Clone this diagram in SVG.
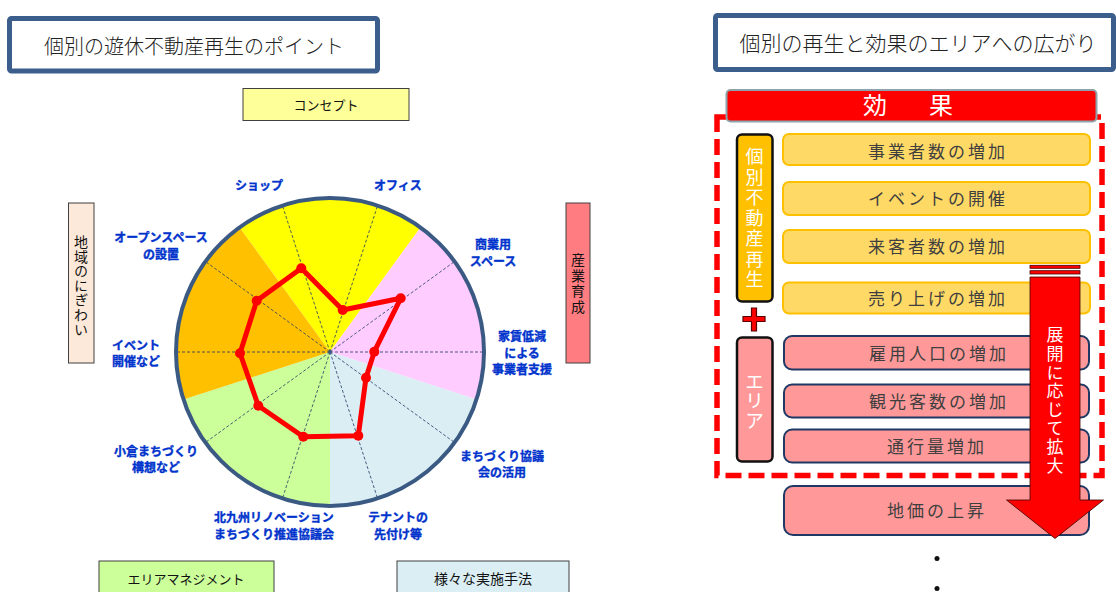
<svg xmlns="http://www.w3.org/2000/svg" width="1116" height="592" viewBox="0 0 1116 592">
<style>
text{font-family:"Noto Sans CJK JP","Noto Sans",sans-serif}
.title{font-size:20px;fill:#222;font-weight:300}
.lbl{font-size:12px;font-weight:bold;fill:#0033CC;stroke:#0033CC;stroke-width:0.35;text-anchor:middle}
.box{stroke:#404040;stroke-width:1}
.bt{font-size:13px;fill:#111;text-anchor:middle}
.vbt{fill:#111;writing-mode:vertical-rl}
.spoke{stroke:#1F3864;stroke-width:0.8;stroke-dasharray:3 2;fill:none}
.eff{fill:#FFD966;stroke:#FFC000;stroke-width:2}
.pk{fill:#FF9999;stroke:#1F3864;stroke-width:2}
.et{font-size:17px;fill:#3F3F3F;text-anchor:middle;letter-spacing:3px}
.vt{fill:#fff;writing-mode:vertical-rl}
</style>
<rect width="1116" height="592" fill="#fff"/>

<g id="title-left">
<rect x="9.5" y="18.5" width="368" height="52.5" fill="#fff" stroke="#3B5E8C" stroke-width="5" rx="2"/>
<text class="title" x="194" y="54" text-anchor="middle">個別の遊休不動産再生のポイント</text>
</g>

<g id="radar">
<path d="M330,352 L420.5,227.4 A154,154 0 0,0 239.5,227.4 Z" fill="#FFFF00"/>
<path d="M330,352 L476.5,399.6 A154,154 0 0,0 420.5,227.4 Z" fill="#FFCCFF"/>
<path d="M330,352 L330,506 A154,154 0 0,0 476.5,399.6 Z" fill="#DAEEF3"/>
<path d="M330,352 L183.5,399.6 A154,154 0 0,0 330,506 Z" fill="#CCFF99"/>
<path d="M330,352 L239.5,227.4 A154,154 0 0,0 183.5,399.6 Z" fill="#FFC000"/>
<g class="spoke">
<line x1="330" y1="352" x2="282.4" y2="205.5"/>
<line x1="330" y1="352" x2="377.6" y2="205.5"/>
<line x1="330" y1="352" x2="454.6" y2="261.5"/>
<line x1="330" y1="352" x2="484" y2="352"/>
<line x1="330" y1="352" x2="454.6" y2="442.5"/>
<line x1="330" y1="352" x2="377.6" y2="498.5"/>
<line x1="330" y1="352" x2="282.4" y2="498.5"/>
<line x1="330" y1="352" x2="205.4" y2="442.5"/>
<line x1="330" y1="352" x2="176" y2="352"/>
<line x1="330" y1="352" x2="205.4" y2="261.5"/>
</g>
<circle cx="330" cy="352" r="154" fill="none" stroke="#3B5A83" stroke-width="4"/>
<circle cx="330" cy="352" r="1.8" fill="#3B5A83"/>
<polygon points="301.3,268.3 342.7,310 400.7,298.3 374.3,351.7 366,377.7 358.3,435.7 303.3,436.7 258.3,405.7 240,353.3 256.7,300.7" fill="none" stroke="#FF0000" stroke-width="5" stroke-linejoin="round"/>
<g fill="#FF0000">
<circle cx="301.3" cy="268.3" r="5"/>
<circle cx="342.7" cy="310" r="5"/>
<circle cx="400.7" cy="298.3" r="5"/>
<circle cx="374.3" cy="351.7" r="5"/>
<circle cx="366" cy="377.7" r="5"/>
<circle cx="358.3" cy="435.7" r="5"/>
<circle cx="303.3" cy="436.7" r="5"/>
<circle cx="258.3" cy="405.7" r="5"/>
<circle cx="240" cy="353.3" r="5"/>
<circle cx="256.7" cy="300.7" r="5"/>
</g>
</g>

<g id="radar-labels">
<text class="lbl" x="259" y="190">ショップ</text>
<text class="lbl" x="398" y="190">オフィス</text>
<text class="lbl" x="493" y="249">商業用</text>
<text class="lbl" x="493" y="266">スペース</text>
<text class="lbl" x="522" y="341">家賃低減</text>
<text class="lbl" x="522" y="358">による</text>
<text class="lbl" x="522" y="374">事業者支援</text>
<text class="lbl" x="502" y="461">まちづくり協議</text>
<text class="lbl" x="502" y="477">会の活用</text>
<text class="lbl" x="398" y="522">テナントの</text>
<text class="lbl" x="398" y="539">先付け等</text>
<text class="lbl" x="274" y="522">北九州リノベーション</text>
<text class="lbl" x="274" y="539">まちづくり推進協議会</text>
<text class="lbl" x="156" y="456">小倉まちづくり</text>
<text class="lbl" x="156" y="472">構想など</text>
<text class="lbl" x="136" y="350">イベント</text>
<text class="lbl" x="136" y="366">開催など</text>
<text class="lbl" x="161" y="242">オープンスペース</text>
<text class="lbl" x="161" y="259">の設置</text>
</g>

<g id="concept">
<rect class="box" x="243" y="88.5" width="166" height="32" fill="#FFFF99"/>
<text class="bt" x="326" y="109.5">コンセプト</text>
</g>

<g id="nigiwai">
<rect class="box" x="68.5" y="203" width="25.5" height="160" fill="#FDE9D9"/>
<text class="vbt" style="font-size:14px;letter-spacing:0.6px" x="81" y="234.7">地域のにぎわい</text>
</g>

<g id="sangyo">
<rect class="box" x="566" y="203" width="24" height="160" fill="#FF7C80"/>
<text class="vbt" style="font-size:14px;letter-spacing:1.5px" x="578" y="253">産業育成</text>
</g>

<g id="area-mgmt">
<rect class="box" x="99" y="561" width="175" height="40" fill="#CCFF99"/>
<text class="bt" x="186" y="584">エリアマネジメント</text>
</g>

<g id="methods">
<rect class="box" x="397" y="561" width="172" height="40" fill="#DAEEF3"/>
<text class="bt" style="font-size:14px" x="483" y="584">様々な実施手法</text>
</g>

<g id="title-right">
<rect x="715.5" y="15.5" width="398" height="54" fill="#fff" stroke="#3B5E8C" stroke-width="5" rx="2"/>
<text class="title" style="font-size:21px" x="918" y="51" text-anchor="middle">個別の再生と効果のエリアへの広がり</text>
</g>

<g id="effect-area">
<rect x="717" y="117" width="385" height="358.5" fill="none" stroke="#FF0000" stroke-width="5.5" stroke-dasharray="16 7"/>
</g>

<g id="effect-header">
<rect x="726.5" y="90" width="370" height="31.5" rx="4" fill="#FF0000" stroke="#8DA4AC" stroke-width="2"/>
<text x="863" y="114" style="font-size:24px;fill:#fff;letter-spacing:9px">効　果</text>
</g>

<g id="kobetsu">
<rect x="737" y="134.5" width="35.5" height="167" rx="5" fill="#FFC000" stroke="#111" stroke-width="2.5"/>
<text class="vt" style="font-size:18px;letter-spacing:2.5px" x="754.5" y="147.5">個別不動産再生</text>
</g>

<g id="plus">
<polygon points="751.5,308 756.5,308 756.5,316.5 765,316.5 765,321.5 756.5,321.5 756.5,331 751.5,331 751.5,321.5 743,321.5 743,316.5 751.5,316.5" fill="#FF0000" stroke="#5A0000" stroke-width="1.2"/>
</g>

<g id="area">
<rect x="737" y="337.5" width="35.5" height="124" rx="5" fill="#FF9999" stroke="#111" stroke-width="2.5"/>
<text class="vt" style="font-size:19px;letter-spacing:0.5px" x="754.5" y="372">エリア</text>
</g>

<g id="e1"><rect class="eff" x="783" y="134" width="307" height="31" rx="6"/><text class="et" x="938" y="157.5">事業者数の増加</text></g>
<g id="e2"><rect class="eff" x="783" y="182" width="307" height="33" rx="6"/><text class="et" x="938" y="204.5">イベントの開催</text></g>
<g id="e3"><rect class="eff" x="783" y="230" width="307" height="33" rx="6"/><text class="et" x="938" y="253">来客者数の増加</text></g>
<g id="e4"><rect class="eff" x="783" y="282.5" width="307" height="31" rx="6"/><text class="et" x="938" y="304.5">売り上げの増加</text></g>
<g id="p1"><rect class="pk" x="784" y="336" width="305" height="33.5" rx="8"/><text class="et" x="939" y="360">雇用人口の増加</text></g>
<g id="p2"><rect class="pk" x="784" y="384.5" width="305" height="33" rx="8"/><text class="et" x="939" y="407.5">観光客数の増加</text></g>
<g id="p3"><rect class="pk" x="784" y="429.5" width="305" height="33" rx="8"/><text class="et" x="937" y="452.5">通行量増加</text></g>
<g id="p4"><rect class="pk" x="784" y="486" width="305" height="49" rx="9"/><text class="et" x="937" y="517">地価の上昇</text></g>

<g id="arrow">
<rect x="1030" y="265.3" width="50" height="3" fill="#FF0000" stroke="#400000" stroke-width="0.8"/>
<rect x="1030" y="270.7" width="50" height="3.3" fill="#FF0000" stroke="#400000" stroke-width="0.8"/>
<polygon points="1030,277 1080,277 1080,500 1103.5,500 1055,538.5 1006.5,500 1030,500" fill="#FF0000" stroke="#400000" stroke-width="0.8"/>
<text class="vt" style="font-size:17px;letter-spacing:1.6px" x="1055" y="326.5">展開に応じて拡大</text>
</g>

<g id="dots" fill="#111">
<circle cx="937" cy="558.5" r="2.5"/>
<circle cx="937" cy="588.5" r="2.5"/>
</g>
</svg>
